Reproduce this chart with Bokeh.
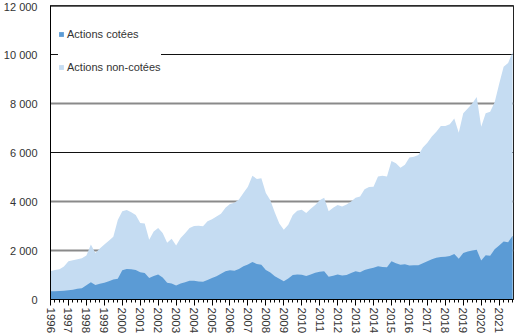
from bokeh.plotting import figure
from bokeh.models import Span, Legend, LegendItem, FixedTicker, ColumnDataSource, Range1d
from bokeh.embed import file_html
from bokeh.resources import INLINE

years = list(range(1996, 2022))
quarters = [y + q / 4 for y in years for q in range(4)]

# Actions cotées (bottom, dark)
cotees = [
    340, 340, 350, 360,      # 1996
    380, 400, 440, 460,      # 1997
    580, 700, 590, 640,      # 1998
    680, 740, 815, 850,      # 1999
    1190, 1240, 1230, 1200,  # 2000
    1110, 1080, 880, 960,    # 2001
    1020, 900, 680, 650,     # 2002
    570, 650, 700, 770,      # 2003
    770, 730, 720, 800,      # 2004
    880, 950, 1050, 1150,    # 2005
    1190, 1170, 1250, 1360,  # 2006
    1430, 1530, 1450, 1420,  # 2007
    1200, 1100, 950, 850,    # 2008
    745, 860, 1000, 1020,    # 2009
    1010, 956, 1020, 1090,   # 2010
    1130, 1150, 930, 970,    # 2011
    1020, 980, 1000, 1080,   # 2012
    1150, 1110, 1200, 1260,  # 2013
    1300, 1360, 1330, 1320,  # 2014
    1560, 1480, 1420, 1440,  # 2015
    1390, 1400, 1400, 1480,  # 2016
    1560, 1640, 1700, 1730,  # 2017
    1740, 1780, 1860, 1660,  # 2018
    1900, 1960, 2000, 2030,  # 2019
    1590, 1810, 1790, 2050,  # 2020
    2200, 2370, 2340, 2600,  # 2021
]

# Top of the light area (cotées + non-cotées)
total = [
    1150, 1200, 1230, 1350,  # 1996
    1560, 1600, 1640, 1680,  # 1997
    1800, 2240, 1900, 2080,  # 1998
    2240, 2400, 2560, 3250,  # 1999
    3600, 3650, 3560, 3450,  # 2000
    3120, 3100, 2440, 2780,  # 2001
    2920, 2710, 2320, 2480,  # 2002
    2200, 2510, 2700, 2920,  # 2003
    3000, 3010, 2990, 3190,  # 2004
    3280, 3390, 3500, 3750,  # 2005
    3900, 3950, 4080, 4350,  # 2006
    4600, 5050, 4920, 4950,  # 2007
    4350, 4050, 3550, 3100,  # 2008
    2850, 3050, 3450, 3620,  # 2009
    3660, 3530, 3700, 3860,  # 2010
    4050, 4150, 3600, 3750,  # 2011
    3860, 3800, 3880, 4000,  # 2012
    4150, 4200, 4500, 4590,  # 2013
    4600, 5020, 5050, 5020,  # 2014
    5650, 5560, 5380, 5500,  # 2015
    5800, 5830, 5900, 6200,  # 2016
    6400, 6650, 6850, 7080,  # 2017
    7080, 7150, 7390, 6810,  # 2018
    7600, 7800, 8000, 8270,  # 2019
    7050, 7600, 7660, 8050,  # 2020
    8800, 9500, 9650, 10100, # 2021
]

y_ticks = [0, 2000, 4000, 6000, 8000, 10000, 12000]
y_tick_labels = ["0", "2 000", "4 000", "6 000", "8 000", "10 000", "12 000"]
series_names = ["Actions cotées", "Actions non-cotées"]

DARK = "#5b9bd5"
LIGHT = "#c5dcf2"
TEXT = "#333333"
FONT = "Liberation Sans"

src = ColumnDataSource(dict(t=quarters, cotees=cotees, total=total))

p = figure(width=517, height=336, output_backend="svg", toolbar_location=None,
           x_range=Range1d(1996, 2021.8), y_range=Range1d(0, 12000),
           min_border_left=42, min_border_right=4, min_border_top=5, min_border_bottom=36)
p.xgrid.visible = False
p.ygrid.visible = False
p.outline_line_color = "#222222"
p.outline_line_width = 1
p.background_fill_color = "white"
p.border_fill_color = "white"

# grid lines (alternating styles as in the reference)
for v in y_ticks[1:]:
    if v in (2000, 4000, 8000):
        col, w = "#8a8a8a", 2
    elif v == 12000:
        col, w = "#333333", 2.5
    else:
        col, w = "#111111", 1
    p.add_layout(Span(location=v, dimension="width", line_color=col, line_width=w, level="underlay"))

r_light = p.varea(x="t", y1=0, y2="total", source=src, fill_color=LIGHT)
r_dark = p.varea(x="t", y1=0, y2="cotees", source=src, fill_color=DARK)

# y axis
p.yaxis.ticker = FixedTicker(ticks=y_ticks)
p.yaxis.major_label_overrides = {v: s for v, s in zip(y_ticks, y_tick_labels)}
p.yaxis.major_tick_line_color = None
p.yaxis.minor_tick_line_color = None
p.yaxis.axis_line_color = "black"
p.yaxis.major_label_standoff = 7
p.yaxis.major_label_text_font = FONT
p.yaxis.major_label_text_font_size = "11px"
p.yaxis.major_label_text_color = TEXT

# x axis
p.xaxis.ticker = FixedTicker(ticks=years, minor_ticks=quarters)
p.xaxis.major_label_overrides = {y: str(y) for y in years}
p.xaxis.major_label_orientation = "vertical"
p.xaxis.axis_line_color = "black"
p.xaxis.major_tick_line_color = "black"
p.xaxis.minor_tick_line_color = "black"
p.xaxis.major_tick_in = 0
p.xaxis.major_tick_out = 6
p.xaxis.minor_tick_in = 0
p.xaxis.minor_tick_out = 3
p.xaxis.major_label_standoff = 2
p.xaxis.major_label_text_font = FONT
p.xaxis.major_label_text_font_size = "11.5px"
p.xaxis.major_label_text_color = TEXT

legend = Legend(items=[LegendItem(label=series_names[0], renderers=[r_dark]),
                       LegendItem(label=series_names[1], renderers=[r_light])],
                location=(8, 226), orientation="vertical",
                glyph_width=6, glyph_height=6, label_height=13, label_standoff=3,
                spacing=20, padding=14, margin=0,
                border_line_color=None, background_fill_color="white", background_fill_alpha=1,
                label_text_font=FONT, label_text_font_size="11px", label_text_color=TEXT)
p.add_layout(legend)

open("out.html", "w").write(file_html(p, INLINE))
